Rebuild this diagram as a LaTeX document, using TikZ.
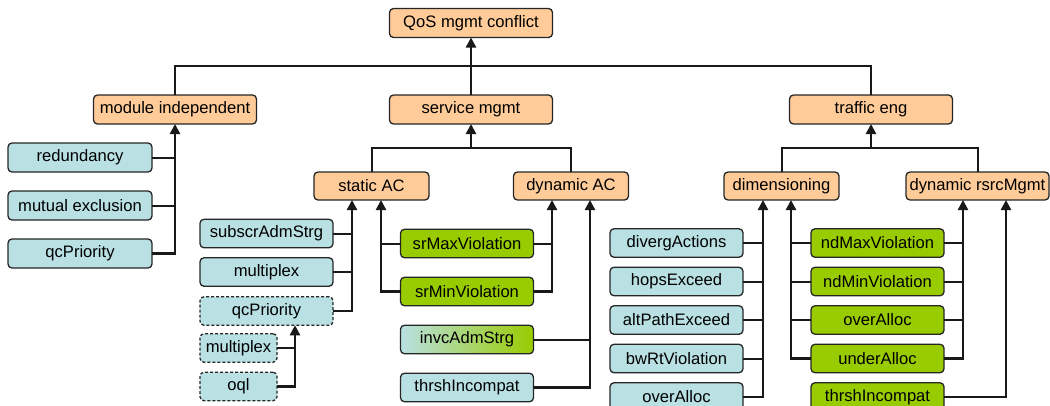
\documentclass[tikz,border=0pt]{standalone}
\usepackage{fontspec}
\setmainfont{Liberation Sans}
\usetikzlibrary{positioning,arrows.meta}
\definecolor{catfill}{HTML}{FFCC99}
\definecolor{leaffill}{HTML}{B9E0E3}
\definecolor{hitfill}{HTML}{99CC00}

\begin{document}
\begin{tikzpicture}
		[x=1pt,y=-1pt,font=\fontsize{16.6}{19}\selectfont,
		box/.style={rectangle,rounded corners=4pt,draw=black!85,line width=1.3pt,inner sep=2pt,outer sep=0pt},
		cat/.style={box,fill=catfill,minimum width=163pt,minimum height=29pt},
		sub/.style={box,fill=catfill,minimum width=115pt,minimum height=28pt},
		wide/.style={box,fill=leaffill,minimum width=144pt,minimum height=29pt},
		leaf/.style={box,fill=leaffill,minimum width=133pt,minimum height=28.5pt},
		hit/.style={box,fill=hitfill,minimum width=133pt,minimum height=28.5pt},
		maybe/.style={leaf,dash pattern=on 3pt off 2pt},
		link/.style={draw=black!90,line width=2pt},
		arrow/.style={link,line width=2.3pt,-{Triangle[length=10pt,width=10pt]}}]
		\useasboundingbox (0,0) rectangle (1050,405);
		\clip (0,0) rectangle (1050,405);

		\node [cat] (qos) at (471,23) {QoS mgmt conflict};
		\node [cat] (modind) at (175,109.5) {module independent};
		\node [cat] (serv) at (471,109.5) {service mgmt};
		\node [cat] (traf) at (871,109.5) {traffic eng};

		\node [sub] (stat) at (371.5,186) {static AC};
		\node [sub] (dynac) at (571,186) {dynamic AC};
		\node [sub] (dim) at (781.5,186) {dimensioning};
		\node [sub,minimum width=143pt] (dynrs) at (977.5,186) {dynamic rsrcMgmt};

		\node [wide] (red) at (80,157.5) {redundancy};
		\node [wide] (mutex) [below=19pt of red] {mutual exclusion};
		\node [wide] (qcp) [below=19pt of mutex] {qcPriority};

		\node [leaf] (subscr) at (266.5,233.5) {subscrAdmStrg};
		\node [leaf] (mplx) [below=10pt of subscr] {multiplex};
		\node [maybe] (qcd) [below=10.5pt of mplx] {qcPriority};
		\node [maybe,minimum width=77pt] (smux) [below right=8.5pt and 0pt of qcd.south west] {multiplex};
		\node [maybe,minimum width=77pt] (oql) [below=10pt of smux] {oql};

		\node [hit] (srmax) at (467,243.5) {srMaxViolation};
		\node [hit] (srmin) [below=19.5pt of srmax] {srMinViolation};
		\node [leaf,left color=leaffill,middle color=leaffill,right color=hitfill] (invc) [below=19.5pt of srmin] {invcAdmStrg};
		\node [leaf] (thr) [below=19.5pt of invc] {thrshIncompat};

		\node [leaf] (dvg) at (676.5,243) {divergActions};
		\node [leaf] (hops) [below=10pt of dvg] {hopsExceed};
		\node [leaf] (alt) [below=10pt of hops] {altPathExceed};
		\node [leaf] (bw) [below=10pt of alt] {bwRtViolation};
		\node [leaf] (ovr) [below=10pt of bw] {overAlloc};

		\node [hit] (ndmax) at (877.5,243) {ndMaxViolation};
		\node [hit] (ndmin) [below=10pt of ndmax] {ndMinViolation};
		\node [hit] (ovr2) [below=10pt of ndmin] {overAlloc};
		\node [hit] (under) [below=10pt of ovr2] {underAlloc};
		\node [hit] (thr2) [below=10pt of under] {thrshIncompat};

		% buses between the levels
		\coordinate (topbus) at (471,66);
		\coordinate (servbus) at (471,148);
		\coordinate (trafbus) at (871,148);
		\draw [link] (modind.north) |- (topbus) -| (traf.north);
		\draw [arrow] (serv.north) -- (qos.south);
		\draw [link] (stat.north) |- (servbus) -| (dynac.north);
		\draw [arrow] (servbus) -- (serv.south);
		\draw [link] (dim.north) |- (trafbus) -| (dynrs.north);
		\draw [arrow] (trafbus) -- (traf.south);

		% module independent
		\draw [arrow] (qcp.east) -| (modind.south);
		\draw [link] (red.east) -- (red.east -| modind.south);
		\draw [link] (mutex.east) -- (mutex.east -| modind.south);

		% static AC and dynamic AC
		\coordinate (statL) at ([xshift=-19.5pt]stat.south);
		\coordinate (statR) at ([xshift=9.5pt]stat.south);
		\coordinate (dynacL) at ([xshift=-19pt]dynac.south);
		\coordinate (dynacR) at ([xshift=19pt]dynac.south);
		\coordinate (qcdB) at ([xshift=28.5pt]qcd.south);
		\draw [arrow] (qcd.east) -| (statL);
		\draw [link] (subscr.east) -- (subscr.east -| statL);
		\draw [link] (mplx.east) -- (mplx.east -| statL);
		\draw [arrow] (oql.east) -| (qcdB);
		\draw [link] (smux.east) -- (smux.east -| qcdB);
		\draw [arrow] (srmin.west) -| (statR);
		\draw [link] (srmax.west) -- (srmax.west -| statR);
		\draw [arrow] (srmin.east) -| (dynacL);
		\draw [link] (srmax.east) -- (srmax.east -| dynacL);
		\draw [arrow] (thr.east) -| (dynacR);
		\draw [link] (invc.east) -- (invc.east -| dynacR);

		% dimensioning and dynamic rsrcMgmt
		\coordinate (dimL) at ([xshift=-18.5pt]dim.south);
		\coordinate (dimR) at ([xshift=9.5pt]dim.south);
		\coordinate (dynrsL) at ([xshift=-14.5pt]dynrs.south);
		\coordinate (dynrsR) at ([xshift=28.5pt]dynrs.south);
		\draw [arrow] (ovr.east) -| (dimL);
		\draw [link] (dvg.east) -- (dvg.east -| dimL);
		\draw [link] (hops.east) -- (hops.east -| dimL);
		\draw [link] (alt.east) -- (alt.east -| dimL);
		\draw [link] (bw.east) -- (bw.east -| dimL);
		\draw [arrow] (under.west) -| (dimR);
		\draw [link] (ndmax.west) -- (ndmax.west -| dimR);
		\draw [link] (ndmin.west) -- (ndmin.west -| dimR);
		\draw [link] (ovr2.west) -- (ovr2.west -| dimR);
		\draw [arrow] (under.east) -| (dynrsL);
		\draw [link] (ndmax.east) -- (ndmax.east -| dynrsL);
		\draw [link] (ndmin.east) -- (ndmin.east -| dynrsL);
		\draw [link] (ovr2.east) -- (ovr2.east -| dynrsL);
		\draw [arrow] (thr2.east) -| (dynrsR);
	\end{tikzpicture}
\end{document}
